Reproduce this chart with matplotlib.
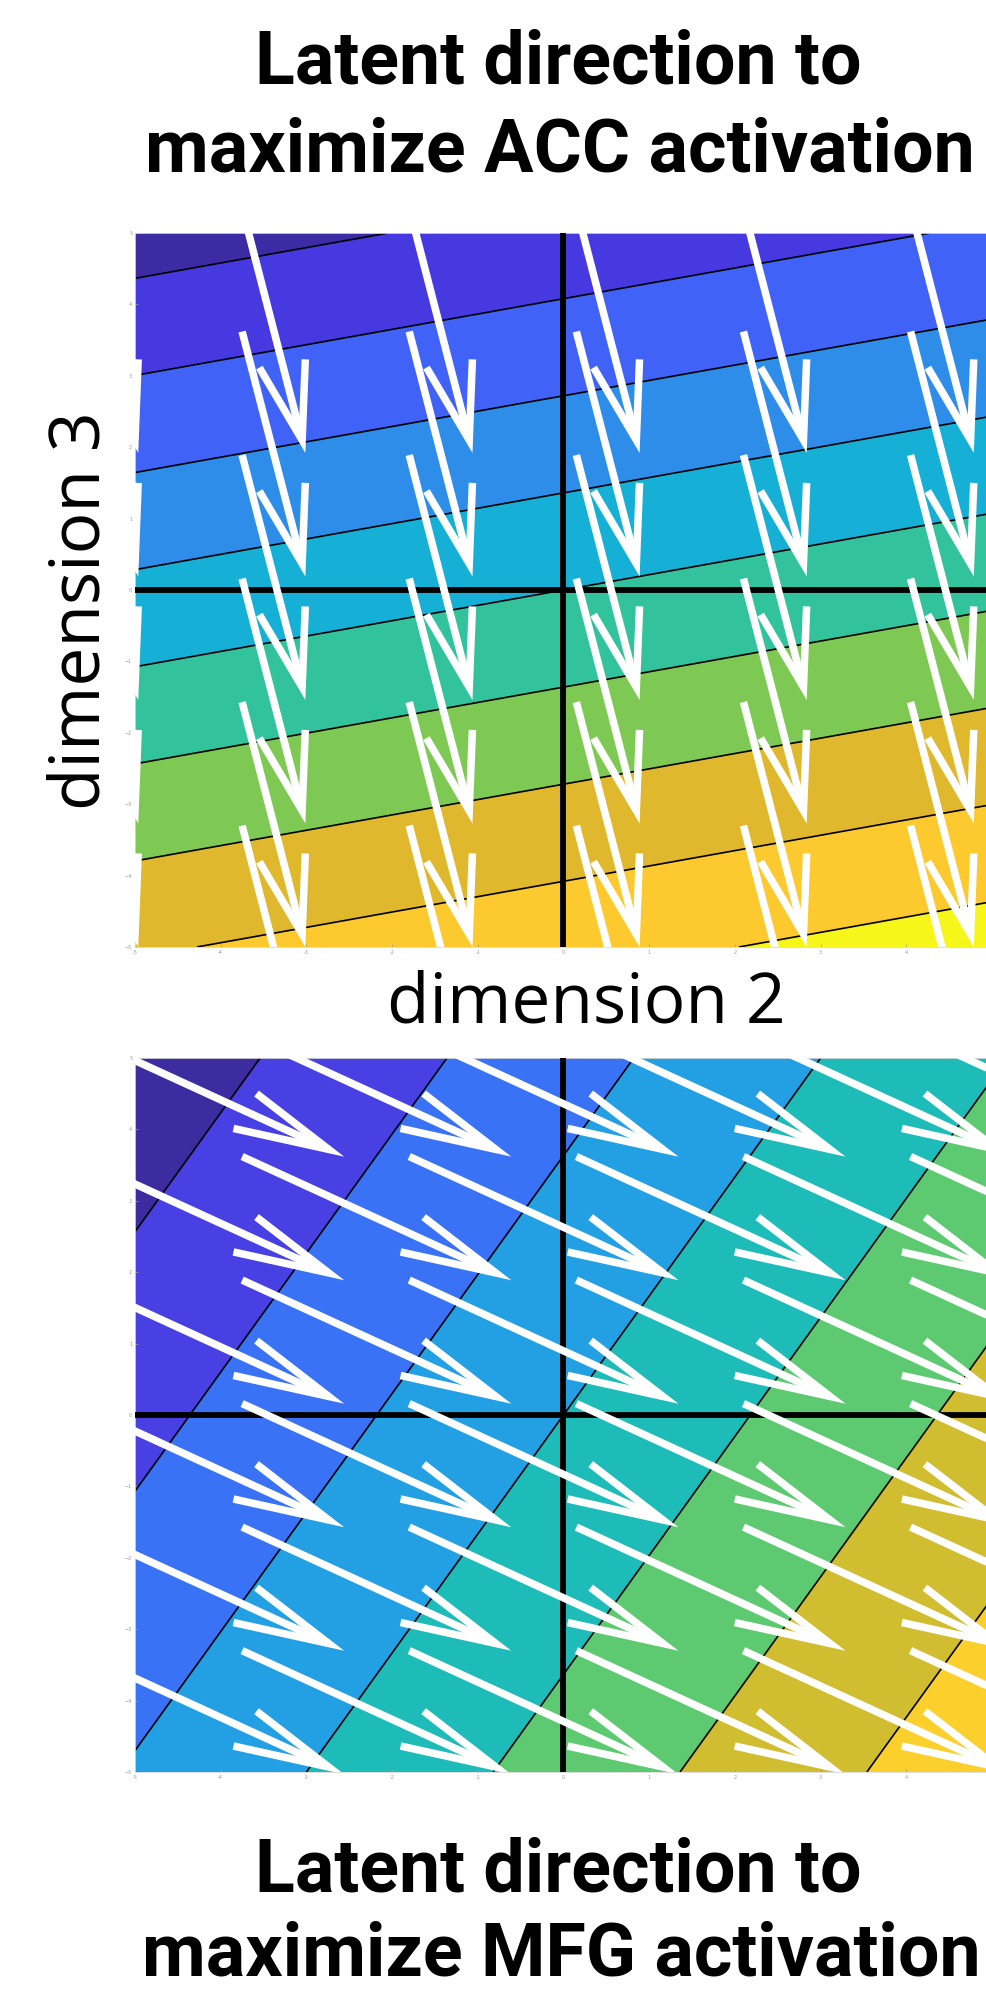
import numpy as np
import matplotlib
matplotlib.use("Agg")
import matplotlib.pyplot as plt

# tail positions of the direction arrows (same lattice in both panels)
grid_x = [-5.7, -3.75, -1.8, 0.15, 2.1, 4.05]
grid_y = [5.35, 3.62, 1.89, 0.16, -1.57, -3.3]

# ACC panel: activation field z = a*x + b*y and the arrow vector
acc_normal = [0.215, -1.0]
acc_levels = [-5.44, -4.08, -2.72, -1.36, 0.0, 1.36, 2.72, 4.08, 5.44]
acc_colors = ["#3c2ba2", "#4639e0", "#4062f6", "#2d8de9", "#16afd6",
              "#33c39c", "#7ec954", "#dfb82d", "#fcca2f", "#f6f61a"]
acc_arrow = [0.70, -3.25]

# MFG panel
mfg_normal = [1.0, -0.6]
mfg_levels = [-6.54, -4.36, -2.18, 0.0, 2.18, 4.36, 6.54]
mfg_colors = ["#3d2ba0", "#4840e2", "#3a72f6", "#23a0e4",
              "#1dbcb8", "#5dca72", "#d0bd30", "#fbd02c"]
mfg_arrow = [2.96, -1.63]

ticks = [-5, -4, -3, -2, -1, 0, 1, 2, 3, 4, 5]
x_ticklabels = ["-5", "-4", "-3", "-2", "-1", "0", "1", "2", "3", "4", ""]

title_font = "Roboto"
label_font = "Open Sans"


def draw_panel(ax, normal, levels, colors, arrow):
    xs = np.linspace(-5, 5, 401)
    X, Y = np.meshgrid(xs, xs)
    Z = normal[0] * X + normal[1] * Y
    bounds = [Z.min() - 1] + levels + [Z.max() + 1]
    ax.contourf(X, Y, Z, levels=bounds, colors=colors, zorder=1)
    ax.contour(X, Y, Z, levels=levels, colors="k", linewidths=1.2,
               linestyles="solid", negative_linestyles="solid", zorder=2)

    ax.axhline(0, color="k", lw=4.2, zorder=3)
    ax.axvline(0, color="k", lw=4.2, zorder=3)

    # quiver-style arrows: shaft plus two head barbs
    u, v = arrow
    alpha, beta = 0.33, 0.25
    for x0 in grid_x:
        for y0 in grid_y:
            tx, ty = x0 + u, y0 + v
            ax.plot([x0, tx], [y0, ty], color="white", lw=5.4,
                    solid_capstyle="butt", zorder=4)
            hx = [tx - alpha * (u + beta * v), tx, tx - alpha * (u - beta * v)]
            hy = [ty - alpha * (v - beta * u), ty, ty - alpha * (v + beta * u)]
            ax.plot(hx, hy, color="white", lw=5.4, solid_capstyle="butt",
                    solid_joinstyle="miter", zorder=4)

    ax.set_xlim(-5, 5)
    ax.set_ylim(-5, 5)
    ax.set_xticks(ticks)
    ax.set_xticklabels(x_ticklabels)
    ax.set_yticks(ticks)
    ax.tick_params(direction="in", length=2, width=0.5, colors="#9a9a9a",
                   labelsize=3.5, pad=2)
    for s in ax.spines.values():
        s.set_color("#d8d8d8")
        s.set_linewidth(0.6)


W, H = 987, 2004
fig = plt.figure(figsize=(W / 100, H / 100), dpi=100)

ax1 = fig.add_axes([135 / W, 1 - 947 / H, 857 / W, 714 / H])
draw_panel(ax1, acc_normal, acc_levels, acc_colors, acc_arrow)

ax2 = fig.add_axes([135 / W, 1 - 1772 / H, 857 / W, 714 / H])
draw_panel(ax2, mfg_normal, mfg_levels, mfg_colors, mfg_arrow)

# titles
title_kw = dict(fontsize=53, fontweight="bold", family=title_font,
                ha="center", va="baseline")
fig.text(558 / W, 1 - 83 / H, "Latent direction to", **title_kw)
fig.text(560 / W, 1 - 172 / H, "maximize ACC activation", **title_kw)
fig.text(558 / W, 1 - 1891 / H, "Latent direction to", **title_kw)
fig.text(561 / W, 1 - 1975 / H, "maximize MFG activation", **title_kw)

# axis labels
fig.text(586 / W, 1 - 1022 / H, "dimension 2", fontsize=50,
         family=label_font, ha="center", va="baseline")
fig.text(100 / W, 1 - 611 / H, "dimension 3", fontsize=50,
         family=label_font, ha="center", va="baseline", rotation=90,
         rotation_mode="anchor")

fig.savefig("out.png", dpi=100)
